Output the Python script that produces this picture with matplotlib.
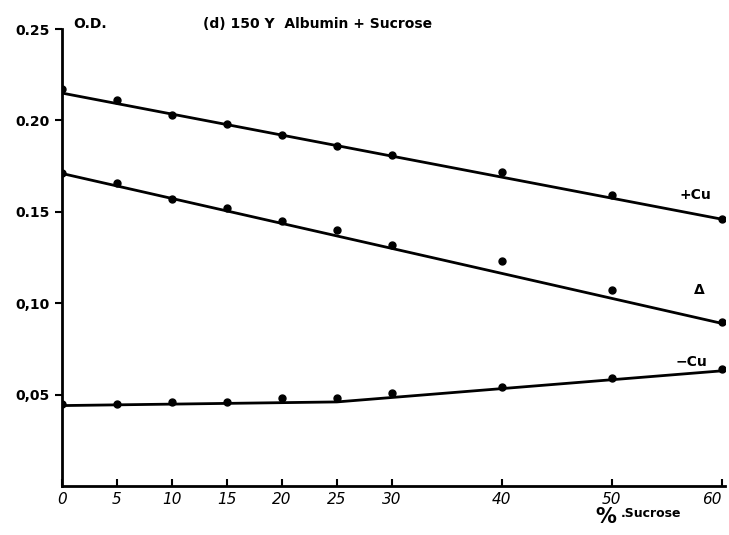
import matplotlib.pyplot as plt
import numpy as np

# % sucrose
sucrose = [0, 5, 10, 15, 20, 25, 30, 40, 50, 60]

# optical density readings
od_plus_cu = [0.217, 0.211, 0.203, 0.198, 0.192, 0.186, 0.181, 0.172, 0.159, 0.146]
od_delta = [0.171, 0.166, 0.157, 0.152, 0.145, 0.140, 0.132, 0.123, 0.107, 0.090]
od_minus_cu = [0.045, 0.045, 0.046, 0.046, 0.048, 0.048, 0.051, 0.054, 0.059, 0.064]

# hand-drawn fitted lines
fit_x = [0, 60]
fit_plus_cu = [0.215, 0.146]
fit_delta = [0.171, 0.089]
fit_minus_x = [0, 25, 60]
fit_minus_cu = [0.044, 0.046, 0.063]

yticks = [0.05, 0.10, 0.15, 0.20, 0.25]
ytick_labels = ['0,05', '0,10', '0.15', '0.20', '0.25']
xticks = [0, 5, 10, 15, 20, 25, 30, 40, 50, 60]

fig = plt.figure(figsize=(7.29, 5.35), dpi=100)
ax = fig.add_axes([0.085, 0.0916, 0.9095, 0.854])

for y in [fit_plus_cu, fit_delta]:
    ax.plot(fit_x, y, color='black', linewidth=2)
ax.plot(fit_minus_x, fit_minus_cu, color='black', linewidth=2)

for y in [od_plus_cu, od_delta, od_minus_cu]:
    ax.plot(sucrose, y, 'o', color='black', markersize=5)

ax.set_xlim(0, 60.3)
ax.set_ylim(0, 0.25)
ax.spines['top'].set_visible(False)
ax.spines['right'].set_visible(False)
ax.spines['left'].set_linewidth(2)
ax.spines['bottom'].set_linewidth(2)

ax.set_yticks(yticks)
ax.set_yticklabels(ytick_labels, fontsize=10, fontweight='bold')
ax.set_xticks(xticks)
ax.set_xticklabels([str(t) for t in xticks], fontsize=11, fontstyle='italic')
ax.get_xticklabels()[-1].set_ha('right')
ax.tick_params(axis='y', direction='out', length=5, width=1.5, pad=4)
ax.tick_params(axis='x', direction='in', length=5, width=1.5, pad=4)

ax.text(1, 0.253, 'O.D.', fontsize=10, fontweight='bold', va='center')
ax.text(12.8, 0.253, '(d) 150 Y  Albumin + Sucrose', fontsize=10, fontweight='bold', va='center')
ax.text(56.2, 0.159, '+Cu', fontsize=10, fontweight='bold', va='center')
ax.text(57.5, 0.107, 'Δ', fontsize=10, fontweight='bold', va='center')
ax.text(55.8, 0.068, '−Cu', fontsize=10, fontweight='bold', va='center')

fig.text(0.817, 0.033, '%', fontsize=15, fontweight='bold', va='center')
fig.text(0.852, 0.040, '.Sucrose', fontsize=9, fontweight='bold', va='center')

plt.savefig('out.png', dpi=100)
